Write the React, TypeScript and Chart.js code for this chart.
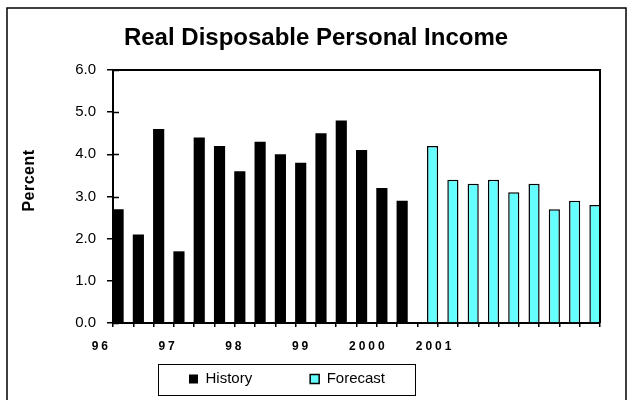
import React, { useEffect, useRef } from 'react';
import { Chart, registerables } from 'chart.js';

Chart.register(...registerables);

const quarters = [
  '96Q1', '96Q2', '96Q3', '96Q4',
  '97Q1', '97Q2', '97Q3', '97Q4',
  '98Q1', '98Q2', '98Q3', '98Q4',
  '99Q1', '99Q2', '99Q3', '99Q4',
  '00Q1', '00Q2', '00Q3', '00Q4',
  '01Q1', '01Q2', '01Q3', '01Q4',
];

const historyValues = [
  2.7, 2.1, 4.6, 1.7, 4.4, 4.2, 3.6, 4.3, 4.0, 3.8, 4.5, 4.8, 4.1, 3.2, 2.9,
  null, null, null, null, null, null, null, null, null,
];

const forecastValues = [
  null, null, null, null, null, null, null, null, null, null, null, null, null, null, null,
  4.2, 3.4, 3.3, 3.4, 3.1, 3.3, 2.7, 2.9, 2.8,
];

const yearLabels = ['96', '97', '98', '99', '2000', '2001'];

const titleText = 'Real Disposable Personal Income';
const yTitleText = 'Percent';

const FONT = "'Liberation Sans', Arial, Helvetica, sans-serif";

const framePlugin = {
  id: 'framePlugin',
  afterLayout(chart: any) {
    const lg = chart.legend;
    if (lg) {
      lg.left = 87;
      lg.right = 487;
      lg.width = 400;
      lg.top = 313.5;
      lg.bottom = 400;
      lg.height = 400 - 313.5;
    }
    const tb = chart.titleBlock;
    if (tb) {
      tb.left = 0;
      tb.right = 632;
      tb.width = 632;
    }
    const s = chart.scales.x2;
    if (s && !s.__ls) {
      const orig = s.drawLabels.bind(s);
      s.drawLabels = (area: any) => {
        const c: any = chart.ctx;
        c.save();
        c.letterSpacing = '3px';
        orig(area);
        c.restore();
      };
      s.__ls = true;
    }
    const y = chart.scales.y;
    if (y && !y.__lt) {
      const origT = y.drawTitle.bind(y);
      y.drawTitle = () => {
        const c: any = chart.ctx;
        c.save();
        c.translate(0, -16);
        c.letterSpacing = '0.5px';
        origT();
        c.restore();
      };
      y.__lt = true;
    }
  },
  beforeDraw(chart: any) {
    const ctx = chart.ctx;
    ctx.save();
    ctx.fillStyle = '#ffffff';
    ctx.fillRect(0, 0, chart.width, chart.height);
    ctx.strokeStyle = '#000';
    ctx.lineWidth = 1.5;
    ctx.strokeRect(7, 8, 619, 400);
    ctx.restore();
  },
  afterDraw(chart: any) {
    const ctx = chart.ctx;
    const ca = chart.chartArea;
    ctx.save();
    ctx.strokeStyle = '#000';
    ctx.lineWidth = 2;
    ctx.beginPath();
    ctx.moveTo(ca.left, ca.top);
    ctx.lineTo(ca.right, ca.top);
    ctx.lineTo(ca.right, ca.bottom);
    ctx.stroke();
    // inner part of the y tick marks (they cross the axis)
    const ys = chart.scales.y;
    ctx.lineWidth = 1.5;
    ctx.beginPath();
    ys.ticks.forEach((_t: any, i: number) => {
      const py = Math.round(ys.getPixelForTick(i)) + 0.5;
      ctx.moveTo(ca.left, py);
      ctx.lineTo(ca.left + 6, py);
    });
    ctx.stroke();
    ctx.lineWidth = 1;
    ctx.strokeRect(158.5, 364.5, 257, 31);
    ctx.restore();
  },
};

export default function App() {
  const ref = useRef<HTMLCanvasElement>(null);

  useEffect(() => {
    if (!ref.current) return;
    Chart.defaults.font.family = FONT;
    Chart.defaults.color = '#000';
    const chart = new Chart(ref.current, {
      type: 'bar',
      data: {
        labels: quarters,
        datasets: [
          {
            label: 'History',
            data: historyValues as any,
            backgroundColor: '#000000',
            borderColor: '#000000',
            borderWidth: 0,
            categoryPercentage: 1,
            barPercentage: 1.1,
          },
          {
            label: 'Forecast',
            data: forecastValues as any,
            backgroundColor: '#66ffff',
            borderColor: '#000000',
            borderWidth: 1.5,
            categoryPercentage: 1,
            barPercentage: 1.1,
          },
        ],
      },
      options: {
        responsive: false,
        animation: false,
        layout: { padding: { left: 8, right: 32, top: 8, bottom: 0 } },
        scales: {
          x: {
            type: 'category',
            grid: {
              offset: true,
              drawOnChartArea: false,
              drawTicks: true,
              tickLength: 4,
              color: '#000',
              lineWidth: 1.5,
            },
            border: { display: true, color: '#000', width: 2 },
            ticks: { display: false },
          },
          x2: {
            type: 'linear',
            position: 'bottom',
            offset: false,
            bounds: 'data',
            min: 0.175,
            max: 7.471,
            grid: { display: false, drawTicks: false, offset: false },
            border: { display: false },
            ticks: {
              font: { size: 12, weight: 'bold' },
              color: '#000',
              padding: 12,
              maxRotation: 0,
              autoSkip: false,
              callback: (_v: any, i: number) => yearLabels[i],
            },
            afterBuildTicks: (s: any) => {
              s.ticks = yearLabels.map((_, i) => ({ value: i }));
            },
            afterFit: (s: any) => {
              s.height = 25;
            },
          } as any,
          y: {
            min: 0,
            max: 6,
            ticks: {
              stepSize: 1,
              font: { size: 15 },
              color: '#000',
              padding: 11,
              callback: (v: any) => Number(v).toFixed(1),
            },
            grid: {
              drawOnChartArea: false,
              drawTicks: true,
              tickLength: 6,
              color: '#000',
              lineWidth: 1.5,
            },
            border: { display: true, color: '#000', width: 2 },
            title: {
              display: true,
              text: yTitleText,
              font: { size: 16, weight: 'bold' },
              color: '#000',
              padding: { top: 11.5, bottom: 0 },
            },
            afterFit: (s: any) => {
              s.width = 105;
            },
          },
        },
        plugins: {
          title: {
            display: true,
            text: titleText,
            font: { size: 24, weight: 'bold' },
            color: '#000',
            padding: { top: 15.6, bottom: 17.6 },
          },
          legend: {
            position: 'bottom',
            maxHeight: 48,
            labels: {
              boxWidth: 9,
              boxHeight: 9,
              padding: 58,
              color: '#000',
              font: { size: 15 },
            },
          } as any,
          tooltip: { enabled: false },
        },
      },
      plugins: [framePlugin],
    });
    return () => chart.destroy();
  }, []);

  return (
    <div
      style={{
        position: 'fixed',
        left: 0,
        top: 0,
        width: 632,
        height: 400,
        background: '#fff',
      }}
    >
      <canvas
        ref={ref}
        width={632}
        height={400}
        style={{ display: 'block', width: 632, height: 400 }}
      />
    </div>
  );
}
